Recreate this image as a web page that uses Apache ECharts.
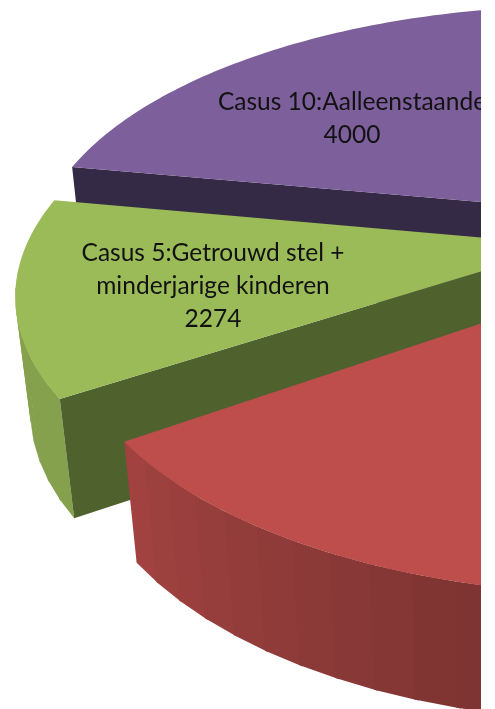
<!DOCTYPE html>
<html>
<head>
<meta charset="utf-8">
<style>
  html, body { margin: 0; background: #fff; }
  #chart { width: 481px; height: 709px; overflow: hidden; }
</style>
<script src="https://cdn.jsdelivr.net/npm/echarts@6/dist/echarts.min.js"></script>
</head>
<body>
<div id="chart"></div>
<script>
// values, the red and remaining slices are estimates
const categories = ["Casus 10:Aalleenstaande", "Casus 5:Getrouwd stel + minderjarige kinderen", "", ""];
const values = [4000, 2274, 5980, 6351];
const labelLines = [["Casus 10:Aalleenstaande", "4000"], ["Casus 5:Getrouwd stel +", "minderjarige kinderen", "2274"], [], []];

const topColors = ["#7d5f9b", "#9bbb59", "#bd4e4b", "#4bacc6"];
const cutColors = ["#352a45", "#4f622d", "#7f3232", "#2c6b7c"];
const explode = [0.16, 0.114, 0.135, 0.1];
const rimNudge = [0, 0, 1.5, 0]; // the source perspective is not a clean projection
const labelPos = [[352, 119], [213, 286], null, null];

// camera for the tilted disc
const cam = { ox: 629, oy: 239.5, fx: 540, fy: 250, g: 0.178, vpX: 470, vpY: 3800, depth: 0.0315 };
const startDeg = -88;
const total = values.reduce((a, b) => a + b, 0);

function project(u, v, deep) {
  const w = 1 - cam.g * v;
  let x = cam.ox + (cam.fx * u) / w;
  let y = cam.oy + (cam.fy * v) / w;
  if (deep) {
    const t = cam.depth / w;
    x += t * (cam.vpX - x);
    y += t * (cam.vpY - y);
  }
  return [x, y];
}

// 0 deg points left, positive runs down over the front of the pie
function rimPoint(centre, deg, deep) {
  const a = (deg * Math.PI) / 180;
  return project(centre[0] - Math.cos(a), centre[1] + Math.sin(a), deep);
}

function shadeColor(hex, f) {
  const n = parseInt(hex.slice(1), 16);
  const c = [n >> 16, (n >> 8) & 255, n & 255].map((p) => Math.round(p * f));
  return `rgb(${c.join(",")})`;
}

function poly(points, color) {
  return { type: "polygon", shape: { points }, style: { fill: color } };
}

function renderSlice(params, api) {
  const i = api.value(0);
  const to = api.value(2);
  const mid = (((api.value(1) + to) / 2) * Math.PI) / 180;
  const from = api.value(1) + rimNudge[i];
  const centre = [-explode[i] * Math.cos(mid), explode[i] * Math.sin(mid)];
  const apex = project(centre[0], centre[1], false);
  const apexLow = project(centre[0], centre[1], true);
  const children = [];

  // outer wall, only the front of the rim, shaded in bands
  const step = 4;
  for (let d = from; d < to; d += step) {
    if (Math.sin((d * Math.PI) / 180) < cam.g * 0.5) continue;
    const e = Math.min(d + step + 0.4, to);
    const f = Math.min(0.86, 0.86 - (0.2 / 43) * (d - 33));
    children.push(poly(
      [rimPoint(centre, d, false), rimPoint(centre, e, false), rimPoint(centre, e, true), rimPoint(centre, d, true)],
      shadeColor(topColors[i], Math.max(0.5, f))
    ));
  }

  // cut faces, only the ones turned to the viewer
  const cutFace = (deg) => poly([apex, rimPoint(centre, deg, false), rimPoint(centre, deg, true), apexLow], cutColors[i]);
  if (Math.cos((from * Math.PI) / 180) < 0) children.push(cutFace(from));
  if (Math.cos((to * Math.PI) / 180) > 0) children.push(cutFace(to));

  // top face
  const top = [apex];
  for (let d = from; d < to; d += 1) top.push(rimPoint(centre, d, false));
  top.push(rimPoint(centre, to, false));
  children.push(poly(top, topColors[i]));

  if (labelPos[i]) {
    children.push({
      type: "text",
      x: labelPos[i][0],
      y: labelPos[i][1],
      style: {
        text: labelLines[i].join("\n"),
        font: '24.5px Lato, "Noto Sans", sans-serif',
        lineHeight: 33,
        fill: "#121212",
        align: "center",
        verticalAlign: "middle",
      },
    });
  }
  return { type: "group", children };
}

let acc = startDeg;
const sliceRows = values.map((v, i) => {
  const from = acc;
  acc += (v / total) * 360;
  return [i, from, acc, v];
});

const chart = echarts.init(document.getElementById("chart"), null, { renderer: "canvas" });
chart.setOption({
  backgroundColor: "#fff",
  animation: false,
  series: [
    {
      type: "custom",
      coordinateSystem: "none",
      renderItem: renderSlice,
      data: sliceRows,
      silent: true,
    },
  ],
});
</script>
</body>
</html>
